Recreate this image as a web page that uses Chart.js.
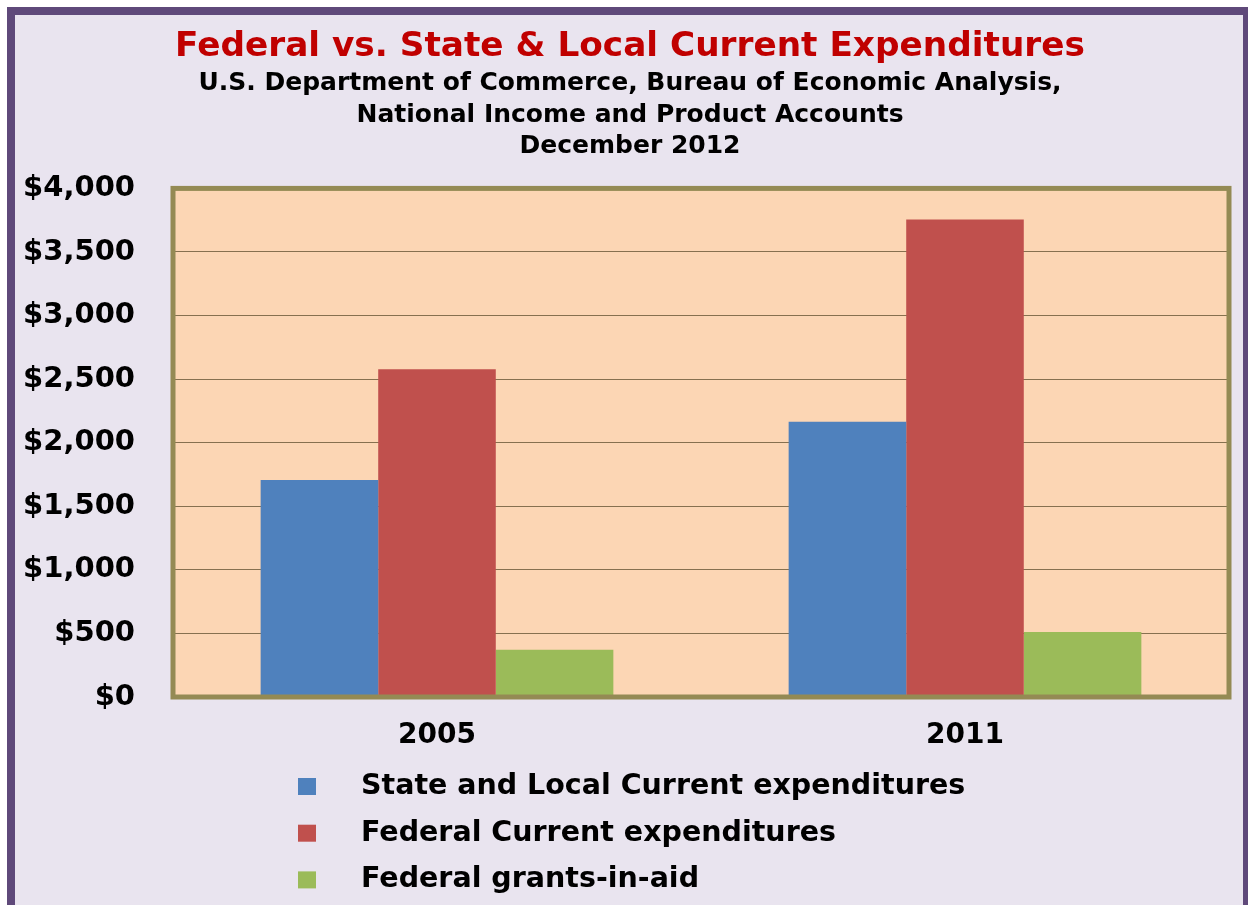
<!DOCTYPE html>
<html>
<head>
<meta charset="utf-8">
<script src="https://cdn.jsdelivr.net/npm/chart.js@4"></script>
<style>
  html, body { margin: 0; padding: 0; }
  body { width: 1248px; height: 905px; overflow: hidden; position: relative; background: #fff; }
  #frame {
    position: absolute; left: 7px; top: 7px; width: 1228px; height: 920px;
    border: 8px solid #5F497A; background: #E9E4EF;
  }
  #wrap { position: absolute; left: 0; top: 0; width: 1248px; height: 905px; }
</style>
</head>
<body>
<div id="frame"></div>
<div id="wrap"><canvas id="c" width="1248" height="905"></canvas></div>
<script>
// values (billions of dollars)
const years = ['2005', '2011'];
const stateLocal = [1707, 2165];
const federalCurrent = [2578, 3755];
const grantsInAid = [372, 512];

const seriesNames = ['State and Local Current expenditures', 'Federal Current expenditures', 'Federal grants-in-aid'];
const seriesColors = ['#4F81BD', '#C0504D', '#9BBB59'];

const titleText = 'Federal vs. State & Local Current Expenditures';
const subtitleLines = [
  'U.S. Department of Commerce, Bureau of Economic Analysis,',
  'National Income and Product Accounts',
  'December 2012'
];

const FONT = '"DejaVu Sans", Verdana, sans-serif';

/* peach plot area + olive frame */
const plotBox = {
  id: 'plotBox',
  beforeDraw(chart) {
    const { ctx, chartArea: a } = chart;
    ctx.save();
    ctx.fillStyle = '#FCD6B4';
    ctx.fillRect(a.left, a.top, a.right - a.left, a.bottom - a.top);
    ctx.restore();
  },
  afterDatasetsDraw(chart) {
    const { ctx, chartArea: a } = chart;
    ctx.save();
    ctx.strokeStyle = '#948A54';
    ctx.lineWidth = 5;
    ctx.strokeRect(a.left, a.top, a.right - a.left, a.bottom - a.top);
    ctx.restore();
  }
};

/* stacked legend under the axis */
const rowLegend = {
  id: 'rowLegend',
  afterDraw(chart) {
    const { ctx, chartArea: a } = chart;
    ctx.save();
    ctx.font = 'bold 28.5px ' + FONT;
    ctx.textBaseline = 'middle';
    ctx.textAlign = 'left';
    chart.data.datasets.forEach((ds, i) => {
      const y = a.bottom + 89.5 + i * 46.7;
      ctx.fillStyle = ds.backgroundColor;
      ctx.fillRect(298, y - 8.5, 18, 17);
      ctx.fillStyle = '#000';
      ctx.fillText(ds.label, 361, y);
    });
    ctx.restore();
  }
};

const bar = (label, data, color) => ({
  label, data,
  backgroundColor: color,
  borderWidth: 0,
  barPercentage: 1.0,
  categoryPercentage: 0.668
});

new Chart(document.getElementById('c'), {
  type: 'bar',
  data: {
    labels: years,
    datasets: [
      bar(seriesNames[0], stateLocal, seriesColors[0]),
      bar(seriesNames[1], federalCurrent, seriesColors[1]),
      bar(seriesNames[2], grantsInAid, seriesColors[2])
    ]
  },
  plugins: [plotBox, rowLegend],
  options: {
    responsive: false,
    animation: false,
    layout: { padding: { left: 14, right: 2, top: 0, bottom: 148 } },
    plugins: {
      legend: { display: false },
      tooltip: { enabled: false },
      title: {
        display: true,
        text: titleText,
        color: '#C00000',
        font: { family: FONT, size: 34.3, weight: 'bold', lineHeight: 1.2 },
        padding: { top: 27, bottom: 0 }
      },
      subtitle: {
        display: true,
        text: subtitleLines,
        color: '#000',
        font: { family: FONT, size: 25, weight: 'bold', lineHeight: 1.25 },
        padding: { top: 0, bottom: 26.5 }
      }
    },
    scales: {
      x: {
        grid: { display: false, drawTicks: false },
        border: { display: false },
        ticks: { color: '#000', padding: 22, font: { family: FONT, size: 28, weight: 'bold', lineHeight: 1.2 } },
        afterFit(s) { s.height = 60; }
      },
      y: {
        min: 0, max: 4000,
        grid: { color: '#86704F', lineWidth: 1, drawTicks: false },
        border: { display: false },
        ticks: {
          stepSize: 500,
          color: '#000',
          padding: 38,
          font: { family: FONT, size: 29, weight: 'bold', lineHeight: 1.2 },
          callback: v => '$' + v.toLocaleString('en-US')
        },
        afterFit(s) { s.width = 159; }
      },
      // empty spacer on the right so the plot ends where the reference does
      spacer: {
        type: 'linear',
        position: 'right',
        grid: { display: false, drawTicks: false },
        border: { display: false },
        ticks: { display: false },
        afterFit(s) { s.width = 17; }
      }
    }
  }
});
</script>
</body>
</html>
